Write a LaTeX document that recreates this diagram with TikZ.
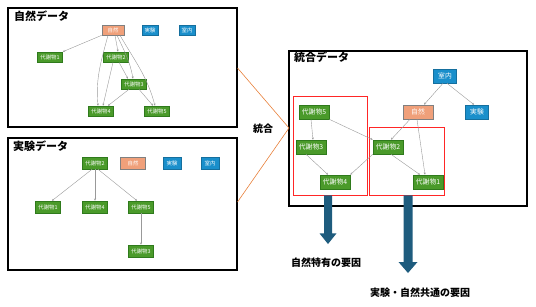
\documentclass[tikz,border=0pt]{standalone}
\usepackage{fontspec}
\setmainfont{Noto Sans CJK JP}
\usetikzlibrary{arrows.meta}
\definecolor{mgreen}{HTML}{4A9A2A}
\definecolor{mgreenb}{HTML}{2F7A1C}
\definecolor{mblue}{HTML}{1A8FCB}
\definecolor{mblueb}{HTML}{156F9E}
\definecolor{msalmon}{HTML}{F0A07A}
\definecolor{marrow}{HTML}{1E5C7E}
\definecolor{morange}{HTML}{E8803A}
\tikzset{
  met/.style={draw=mgreenb, fill=mgreen, text=white, line width=0.6pt, inner sep=0pt, font=\fontsize{5.4}{6}\selectfont},
  grp/.style={draw=mblueb, fill=mblue, text=white, line width=0.6pt, inner sep=0pt, font=\fontsize{5.4}{6}\selectfont},
  nat/.style={draw=gray, fill=msalmon, text=white, line width=0.6pt, inner sep=0pt, font=\fontsize{5.4}{6}\selectfont},
  s1/.style={minimum width=25pt, minimum height=10pt},
  s2/.style={minimum width=25pt, minimum height=12pt},
  s3/.style={minimum width=30pt, minimum height=14pt, font=\fontsize{6.8}{7}\selectfont},
  sb1/.style={minimum width=16pt, minimum height=10pt},
  sb2/.style={minimum width=18pt, minimum height=12pt},
  sb3/.style={minimum width=23pt, minimum height=14pt, font=\fontsize{6.8}{7}\selectfont},
  edge/.style={draw=gray!80, line width=0.4pt, -{Stealth[length=2.2pt,width=2pt]}},
  frame/.style={draw=black, line width=2.8pt},
  redbox/.style={draw=red!85, line width=0.8pt},
  title/.style={font=\fontsize{11}{12}\selectfont\bfseries, anchor=north west, inner sep=0pt},
  lab/.style={font=\fontsize{10}{12}\selectfont\bfseries, inner sep=0pt},
  bigarrow/.style={draw=none, fill=marrow}
}
\begin{document}
\begin{tikzpicture}[x=1pt,y=-1pt]
\useasboundingbox (0,0) rectangle (536,306);
% frames
\draw[frame] (8,8) rectangle (237,127);
\draw[frame] (8,138) rectangle (237,270);
\draw[frame] (289,51) rectangle (527,206);
\node[title] (t1) at (14,11) {自然データ};
\node[title] (t2) at (13,141) {実験データ};
\node[title] (t3) at (294,52) {統合データ};
% orange connector
\coordinate (o1) at (237.5,68);
\coordinate (o2) at (289,128);
\coordinate (o3) at (237.5,202);
\draw[morange, line width=0.6pt] (o1) -- (o2) -- (o3);
\node[lab] (tg) at (263,129) {統合};

% ---------- box 1
\node[nat,s1,minimum width=22pt] (a0) at (113,30) {自然};
\node[grp,sb1] (aj) at (150,30) {実験};
\node[grp,sb1] (as) at (187,30) {室内};
\node[met,s1] (a1) at (50,57) {代謝物1};
\node[met,s1] (a2) at (116,57) {代謝物2};
\node[met,s1] (a3) at (134,84) {代謝物3};
\node[met,s1] (a4) at (101,111) {代謝物4};
\node[met,s1] (a5) at (157,111) {代謝物5};
\draw[edge] (a0.south west) -- (a1.north east);
\draw[edge] ([xshift=2pt]a0.south) -- ([xshift=2pt]a2.north);
\draw[edge] ([xshift=-5pt]a0.south) to[out=-105,in=95] ([xshift=-3pt]a4.north);
\draw[edge] ([xshift=4pt]a0.south) to[out=-65,in=100] ([xshift=-1pt]a3.north);
\draw[edge] ([xshift=7pt]a0.south) to[out=-60,in=105] ([xshift=-2pt]a5.north);
\draw[edge] ([xshift=3pt]a2.south) -- ([xshift=-6pt]a3.north);
\draw[edge] ([xshift=-3pt]a2.south) -- ([xshift=2pt]a4.north);
\draw[edge] ([xshift=-5pt]a3.south) -- ([xshift=7pt]a4.north);
\draw[edge] ([xshift=5pt]a3.south) -- ([xshift=-4pt]a5.north);

% ---------- box 2
\node[met,s2] (b2) at (95,163) {代謝物2};
\node[nat,s2] (b0) at (133,163) {自然};
\node[grp,sb2] (bj) at (172,163) {実験};
\node[grp,sb2] (bs) at (210,163) {室内};
\node[met,s2] (b1) at (48,207) {代謝物1};
\node[met,s2] (b4) at (95,207) {代謝物4};
\node[met,s2] (b5) at (141,207) {代謝物5};
\node[met,s2] (b3) at (141,251) {代謝物3};
\draw[edge] ([xshift=-3pt]b2.south) -- ([xshift=4pt]b1.north);
\draw[edge] (b2.south) -- (b4.north);
\draw[edge] ([xshift=3pt]b2.south) -- ([xshift=-4pt]b5.north);
\draw[edge] (b5.south) -- (b3.north);

% ---------- box 3
\node[grp,sb3] (cs) at (445,76) {室内};
\node[nat,s3] (c0) at (418,112) {自然};
\node[grp,sb3] (cj) at (477,112) {実験};
\node[met,s3] (c5) at (314,112) {代謝物5};
\node[met,s3] (c3) at (311,147) {代謝物3};
\node[met,s3] (c4) at (335,182) {代謝物4};
\node[met,s3] (c2) at (388,147) {代謝物2};
\node[met,s3] (c1) at (428,182) {代謝物1};
\draw[redbox] (293,96) rectangle (367,195);
\draw[redbox] (369,127) rectangle (444,195);
\draw[edge] ([xshift=-2pt]cs.south) -- ([xshift=6pt]c0.north);
\draw[edge] ([xshift=2pt]cs.south) -- ([xshift=-3pt]cj.north);
\draw[edge] ([xshift=-3pt]c5.south) -- ([xshift=2pt]c3.north);
\draw[edge] (c5.south east) -- (c2.north west);
\draw[edge] ([xshift=-5pt]c3.south) -- ([xshift=-7pt]c4.north);
\draw[edge] (c2.south west) -- (c4.north east);
\draw[edge] ([xshift=-8pt]c0.south) -- ([xshift=3pt]c2.north);
\draw[edge] ([xshift=-1pt]c0.south) -- ([xshift=-3pt]c1.north);
\draw[edge] ([xshift=3pt]c2.south) -- ([xshift=-8pt]c1.north);

% ---------- big arrows
\coordinate (r1) at (328,195.4);
\coordinate (r2) at (408,195.4);
\fill[bigarrow] ([xshift=-4pt]r1) -- ++(0,38) -- ++(-4.5,0) -- (328,244) -- (336.5,233.4) -- ++(-4.5,0) -- ++(0,-38) -- cycle;
\fill[bigarrow] ([xshift=-4.5pt]r2) -- ++(0,66.6) -- ++(-5,0) -- (408,273) -- (417.5,262) -- ++(-5,0) -- ++(0,-66.6) -- cycle;
\node[lab] (l1) at (326,263) {自然特有の要因};
\node[lab] (l2) at (420,293) {実験・自然共通の要因};
\end{tikzpicture}
\end{document}
